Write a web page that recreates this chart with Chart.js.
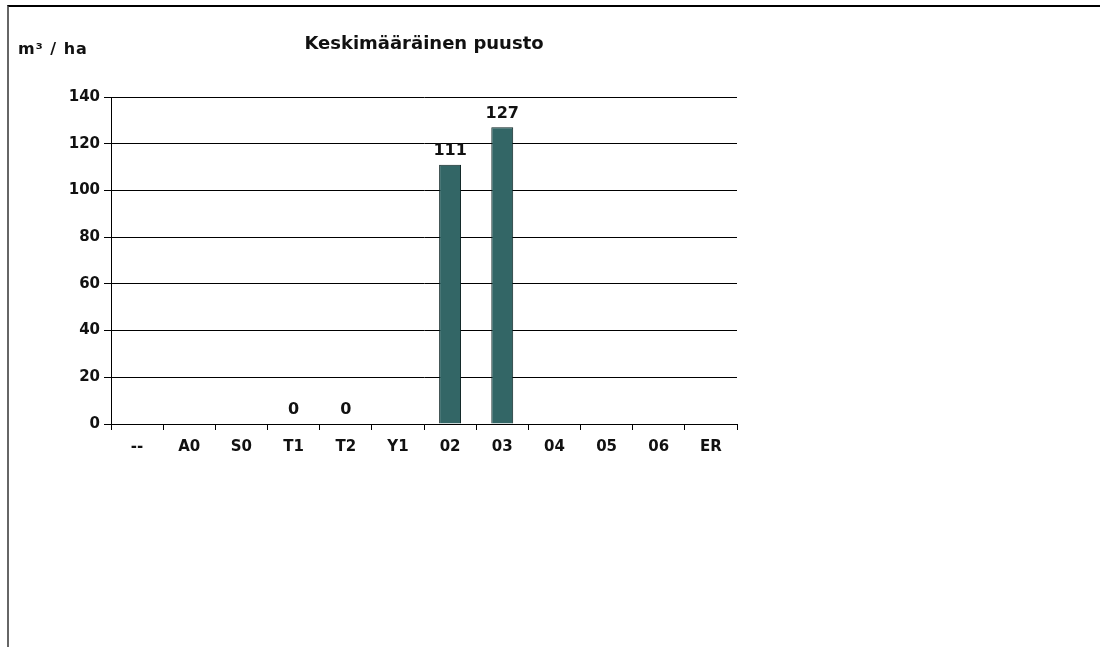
<!DOCTYPE html>
<html>
<head>
<meta charset="utf-8">
<script src="https://cdn.jsdelivr.net/npm/chart.js@4"></script>
<style>
  html, body { margin: 0; padding: 0; background: #fff; }
  #frame { position: absolute; left: 7px; top: 5px; width: 1093px; height: 642px;
           border-top: 2px solid #000; border-left: 2px solid #666; }
  #wrap { position: absolute; left: 0; top: 0; width: 1100px; height: 647px; }
</style>
</head>
<body>
<div id="frame"></div>
<div id="wrap"><canvas id="c" width="1100" height="647"></canvas></div>
<script>
const categories = ["--", "A0", "S0", "T1", "T2", "Y1", "02", "03", "04", "05", "06", "ER"];
const values = [null, null, null, 0, 0, null, 111, 127, null, null, null, null];
const yTicks = [0, 20, 40, 60, 80, 100, 120, 140];
const chartTitle = "Keskimääräinen puusto";
const unitLabel = "m³ / ha";

const FONT = "'DejaVu Sans', Verdana, sans-serif";

const overlay = {
  id: 'overlay',
  afterDatasetsDraw(chart) {
    const ctx = chart.ctx;
    const area = chart.chartArea;
    ctx.save();
    ctx.fillStyle = '#111';
    ctx.font = "bold 18px " + FONT;
    ctx.textAlign = 'center';
    ctx.textBaseline = 'middle';
    ctx.fillText(chartTitle, (area.left + area.right) / 2, 44);
    ctx.font = "bold 16px " + FONT;
    ctx.textAlign = 'left';
    try { ctx.letterSpacing = '1px'; } catch (e) {}
    ctx.fillText(unitLabel, 18, 50);
    try { ctx.letterSpacing = '0px'; } catch (e) {}
    // value labels
    const meta = chart.getDatasetMeta(0);
    ctx.font = "bold 16px " + FONT;
    ctx.textAlign = 'center';
    ctx.textBaseline = 'bottom';
    meta.data.forEach((bar, i) => {
      const v = values[i];
      if (v === null || v === undefined) return;
      ctx.fillText(String(v), bar.x, bar.y - 6);
    });
    ctx.restore();
  }
};

new Chart(document.getElementById('c'), {
  type: 'bar',
  data: {
    labels: categories,
    datasets: [{
      data: values,
      backgroundColor: '#336666',
      borderColor: '#0c2222',
      borderWidth: 1,
      barPercentage: 0.42,
      categoryPercentage: 1.0
    }]
  },
  options: {
    responsive: false,
    animation: false,
    devicePixelRatio: 1,
    layout: { padding: { left: 0, top: 97, right: 363, bottom: 0 } },
    plugins: { legend: { display: false }, tooltip: { enabled: false }, title: { display: false } },
    scales: {
      x: {
        afterFit(scale) { scale.height = 223; },
        grid: { display: true, drawOnChartArea: false, offset: true, color: '#000', tickLength: 6, lineWidth: 1 },
        border: { display: true, color: '#000', width: 1 },
        ticks: { color: '#111', font: { family: FONT, weight: 'bold', size: 15 }, padding: 8 }
      },
      y: {
        min: 0, max: 140,
        afterFit(scale) { scale.width = 111; },
        afterBuildTicks(scale) { scale.ticks = yTicks.map(v => ({ value: v })); },
        grid: { color: '#000', lineWidth: 1, tickLength: 7 },
        border: { display: true, color: '#000', width: 1 },
        ticks: { color: '#111', font: { family: FONT, weight: 'bold', size: 15 }, padding: 4 }
      }
    }
  },
  plugins: [overlay]
});
</script>
</body>
</html>
